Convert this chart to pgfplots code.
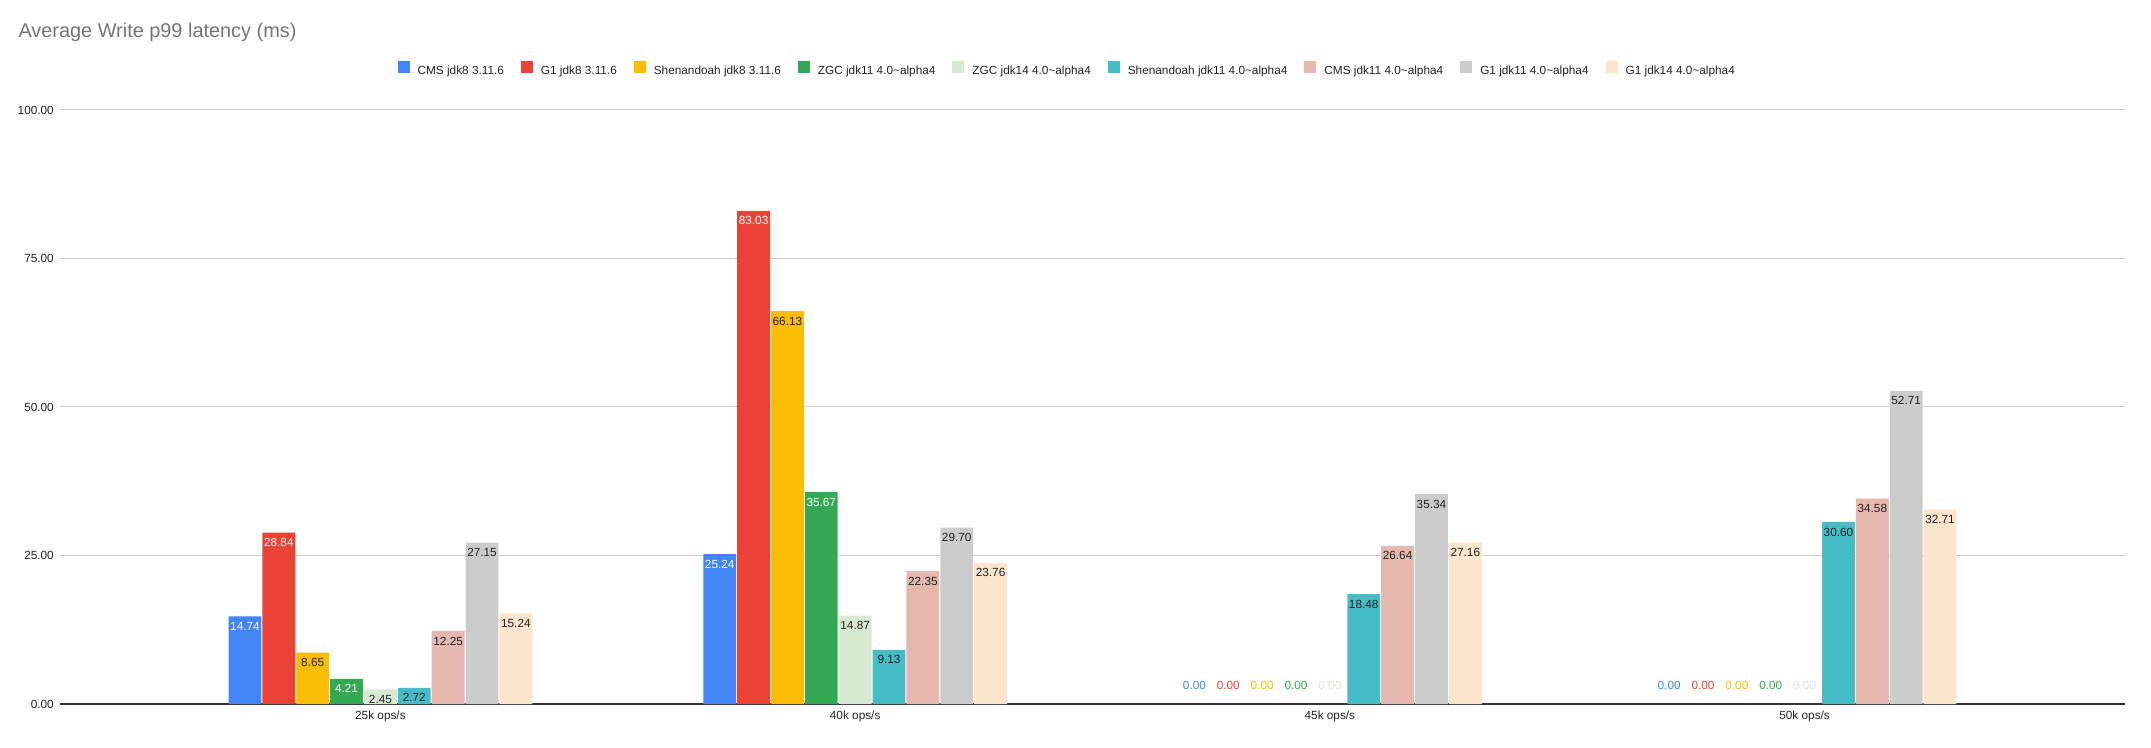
\documentclass[border=0pt]{standalone}
\usepackage{pgfplots}
\pgfplotsset{compat=1.18}
\usepackage{fontspec}
\setmainfont{Liberation Sans}
\definecolor{c1}{HTML}{4285F4}
\definecolor{c2}{HTML}{EA4335}
\definecolor{c3}{HTML}{FBBC04}
\definecolor{c4}{HTML}{34A853}
\definecolor{c5}{HTML}{D9EAD3}
\definecolor{c6}{HTML}{46BDC6}
\definecolor{c7}{HTML}{E6B8AF}
\definecolor{c8}{HTML}{CCCCCC}
\definecolor{c9}{HTML}{FCE5CD}
\definecolor{txt}{HTML}{222222}
\definecolor{ttl}{HTML}{757575}
\definecolor{gridc}{HTML}{CCCCCC}
\definecolor{basec}{HTML}{333333}
\pgfplotsset{
  serieslab/.style n args={3}{fill=#1, draw=none, bar shift=#3*33.86pt,
    every node near coord/.append style={text=#2}},
  zerolab/.style n args={2}{forget plot, draw=none, fill=none, bar shift=#2*33.86pt,
    every node near coord/.append style={text=#1, anchor=south, yshift=19.5pt}},
}
\begin{document}
\begin{tikzpicture}
\useasboundingbox (0,0) rectangle (2151pt,747pt);
\begin{axis}[
  at={(60pt,43pt)}, anchor=south west,
  scale only axis, width=2065pt, height=594pt,
  xmin=-0.675, xmax=3.675, ymin=0, ymax=100,
  xtick={0,1,2,3},
  xticklabels={25k ops/s,40k ops/s,45k ops/s,50k ops/s},
  ytick={0,25,50,75,100},
  ymajorgrids, major grid style={draw=gridc, line width=1pt},
  major tick length=0pt,
  separate axis lines,
  axis x line*=bottom,
  x axis line style={draw=basec, line width=1.2pt, -},
  axis y line*=left,
  y axis line style={draw=none},
  /pgf/number format/.cd, fixed, fixed zerofill, precision=2, assume math mode=true,
  /pgfplots/.cd,
  tick label style={font=\fontsize{11.8pt}{14pt}\selectfont, text=txt, inner sep=0pt},
  yticklabel style={xshift=-6pt},
  xticklabel style={yshift=-7pt},
  ybar, bar width=32.86pt,
  nodes near coords,
  every node near coord/.append style={font=\fontsize{11.8pt}{14pt}\selectfont, inner sep=0pt, anchor=north, yshift=-5.5pt},
  legend columns=9,
  legend style={at={(0.1635,1.0822)}, anchor=north west, draw=none, fill=none,
    inner sep=0pt, outer sep=0pt,
    font=\fontsize{11.8pt}{14pt}\selectfont, text=txt,
    nodes={inner sep=0pt},
    /tikz/every odd column/.append style={column sep=8pt},
    /tikz/every even column/.append style={column sep=17pt}},
  legend cell align=left,
  legend image code/.code={\path[#1, draw=none] (0pt,-1.7pt) rectangle (12pt,10.3pt);},
]
\addplot[serieslab={c1}{white}{-4}] coordinates {(0,14.74) (1,25.24)};
\addlegendentry{CMS jdk8 3.11.6}
\addplot[serieslab={c2}{white}{-3}] coordinates {(0,28.84) (1,83.03)};
\addlegendentry{G1 jdk8 3.11.6}
\addplot[serieslab={c3}{txt}{-2}] coordinates {(0,8.65) (1,66.13)};
\addlegendentry{Shenandoah jdk8 3.11.6}
\addplot[serieslab={c4}{white}{-1}] coordinates {(0,4.21) (1,35.67)};
\addlegendentry{ZGC jdk11 4.0\textasciitilde alpha4}
\addplot[serieslab={c5}{txt}{0}] coordinates {(0,2.45) (1,14.87)};
\addlegendentry{ZGC jdk14 4.0\textasciitilde alpha4}
\addplot[serieslab={c6}{txt}{1}] coordinates {(0,2.72) (1,9.13) (2,18.48) (3,30.60)};
\addlegendentry{Shenandoah jdk11 4.0\textasciitilde alpha4}
\addplot[serieslab={c7}{txt}{2}] coordinates {(0,12.25) (1,22.35) (2,26.64) (3,34.58)};
\addlegendentry{CMS jdk11 4.0\textasciitilde alpha4}
\addplot[serieslab={c8}{txt}{3}] coordinates {(0,27.15) (1,29.70) (2,35.34) (3,52.71)};
\addlegendentry{G1 jdk11 4.0\textasciitilde alpha4}
\addplot[serieslab={c9}{txt}{4}] coordinates {(0,15.24) (1,23.76) (2,27.16) (3,32.71)};
\addlegendentry{G1 jdk14 4.0\textasciitilde alpha4}
\addplot[zerolab={c1}{-4}] coordinates {(2,0) (3,0)};
\addplot[zerolab={c2}{-3}] coordinates {(2,0) (3,0)};
\addplot[zerolab={c3}{-2}] coordinates {(2,0) (3,0)};
\addplot[zerolab={c4}{-1}] coordinates {(2,0) (3,0)};
\addplot[zerolab={c5}{0}] coordinates {(2,0) (3,0)};
\end{axis}
\node[anchor=base west, inner sep=0pt, text=ttl, font=\fontsize{19.9pt}{24pt}\selectfont] at (18.3pt,709.5pt) {Average Write p99 latency (ms)};
\end{tikzpicture}
\end{document}
